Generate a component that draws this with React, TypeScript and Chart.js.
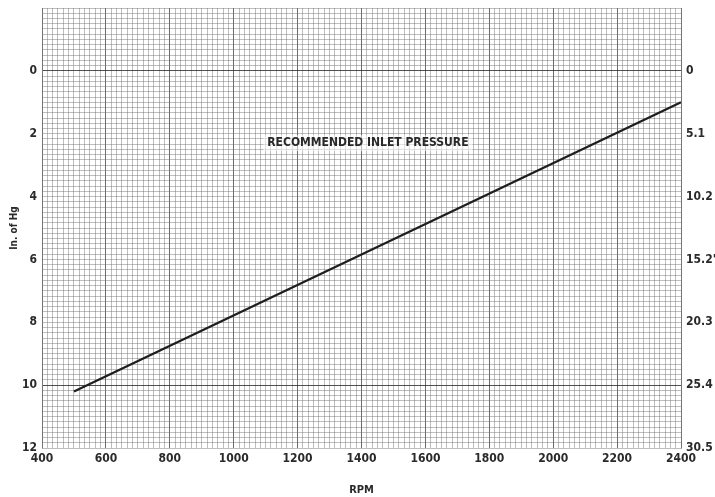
import React, { useEffect, useRef } from "react";
import { Chart, registerables } from "chart.js";

Chart.register(...registerables);

const rpm: number[] = [500, 2400];
const inHg: number[] = [10.2, 1.0];
const xTickValues: number[] = [400, 600, 800, 1000, 1200, 1400, 1600, 1800, 2000, 2200, 2400];
const leftTickValues: number[] = [0, 2, 4, 6, 8, 10, 12];
const rightTickLabels: string[] = ["0", "5.1", "10.2", "15.2'", "20.3", "25.4", "30.5"];
const annotationText = "RECOMMENDED INLET PRESSURE";
const annotationAt = { x: 1420, y: 2.3 };

const FONT = "'Liberation Sans Narrow', 'DejaVu Sans Condensed', 'Roboto Condensed', sans-serif";
const X_MINOR = 200 / 12;
const Y_MINOR = 1 / 6;

const near = (v: number, step: number) => Math.abs(v / step - Math.round(v / step)) < 1e-6;

const annotationPlugin = {
  id: "annot",
  afterDatasetsDraw(chart: any) {
    const { ctx, scales } = chart;
    const px = scales.x.getPixelForValue(annotationAt.x);
    const py = scales.y.getPixelForValue(annotationAt.y);
    ctx.save();
    ctx.font = `bold 12px ${FONT}`;
    const w = ctx.measureText(annotationText).width;
    ctx.fillStyle = "rgba(255,255,255,0.55)";
    ctx.fillRect(px - w / 2 - 4, py - 8, w + 8, 16);
    ctx.fillStyle = "#2a2a2a";
    ctx.textAlign = "center";
    ctx.textBaseline = "middle";
    ctx.fillText(annotationText, px, py);
    ctx.restore();
  },
};

export default function App() {
  const ref = useRef<HTMLCanvasElement>(null);
  useEffect(() => {
    if (!ref.current) return;
    const chart = new Chart(ref.current, {
      type: "line",
      data: {
        datasets: [
          {
            data: rpm.map((r, i) => ({ x: r, y: inHg[i] })),
            borderColor: "#1e1e1e",
            borderWidth: 2.2,
            pointRadius: 0,
            fill: false,
          },
        ],
      },
      options: {
        responsive: false,
        animation: false,
        plugins: { legend: { display: false }, tooltip: { enabled: false } },
        layout: { padding: { top: 8, left: 0, right: 0, bottom: 0 } },
        scales: {
          x: {
            type: "linear",
            min: 400,
            max: 2400,
            afterBuildTicks: (scale: any) => {
              const t: any[] = [];
              for (let i = 0; i <= 120; i++) t.push({ value: 400 + i * X_MINOR });
              scale.ticks = t;
            },
            afterFit: (scale: any) => {
              scale.height = 49;
              scale.paddingLeft = 0;
              scale.paddingRight = 0;
            },
            ticks: {
              autoSkip: false,
              maxRotation: 0,
              padding: 4,
              color: "#2a2a2a",
              font: { family: FONT, size: 12, weight: "bold" },
              callback: (v: any) => {
                const val = Number(v);
                const hit = xTickValues.find((t) => Math.abs(t - val) < 1e-6);
                return hit !== undefined ? String(hit) : "";
              },
            },
            grid: {
              drawTicks: false,
              lineWidth: 1,
              color: (c: any) => {
                const v = c.tick ? c.tick.value : 0;
                return near(v - 400, 200) ? "rgba(60,60,60,0.75)" : "rgba(110,110,110,0.45)";
              },
            },
            border: { display: false },
            title: {
              display: true,
              text: "RPM",
              color: "#2a2a2a",
              font: { family: FONT, size: 11, weight: "bold" },
              padding: { top: 4, bottom: 0 },
            },
          },
          y: {
            type: "linear",
            min: -2,
            max: 12,
            reverse: true,
            position: "left",
            afterBuildTicks: (scale: any) => {
              const t: any[] = [];
              for (let i = 0; i <= 84; i++) t.push({ value: -2 + i * Y_MINOR });
              scale.ticks = t;
            },
            afterFit: (scale: any) => {
              scale.width = 42;
              scale.paddingTop = 0;
              scale.paddingBottom = 0;
            },
            ticks: {
              autoSkip: false,
              padding: 5,
              color: "#2a2a2a",
              font: { family: FONT, size: 12, weight: "bold" },
              callback: (v: any) => {
                const val = Number(v);
                const hit = leftTickValues.find((t) => Math.abs(t - val) < 1e-6);
                return hit !== undefined ? String(hit) : "";
              },
            },
            grid: {
              drawTicks: false,
              lineWidth: 1,
              color: (c: any) => {
                const v = c.tick ? c.tick.value : 1;
                if (Math.abs(v) < 1e-6 || Math.abs(v - 10) < 1e-6) return "rgba(50,50,50,0.85)";
                return "rgba(110,110,110,0.45)";
              },
            },
            border: { display: true, color: "rgba(120,120,120,0.7)" },
            title: {
              display: true,
              text: "In. of Hg",
              color: "#2a2a2a",
              font: { family: FONT, size: 10, weight: "bold" },
              padding: { top: 8, bottom: 0 },
            },
          },
          y2: {
            type: "linear",
            min: -2,
            max: 12,
            reverse: true,
            position: "right",
            afterBuildTicks: (scale: any) => {
              scale.ticks = leftTickValues.map((v) => ({ value: v }));
            },
            afterFit: (scale: any) => {
              scale.width = 34;
              scale.paddingTop = 0;
              scale.paddingBottom = 0;
            },
            ticks: {
              autoSkip: false,
              padding: 5,
              color: "#2a2a2a",
              font: { family: FONT, size: 12, weight: "bold" },
              callback: (v: any) => {
                const idx = leftTickValues.findIndex((t) => Math.abs(t - Number(v)) < 1e-6);
                return idx >= 0 ? rightTickLabels[idx] : "";
              },
            },
            grid: { drawOnChartArea: false, drawTicks: false },
            border: { display: true, color: "rgba(120,120,120,0.7)" },
          },
        },
      } as any,
      plugins: [annotationPlugin],
    });
    return () => chart.destroy();
  }, []);
  return (
    <div style={{ position: "fixed", left: 0, top: 0, width: 715, height: 497, background: "#fff" }}>
      <canvas ref={ref} width={715} height={497} />
    </div>
  );
}
